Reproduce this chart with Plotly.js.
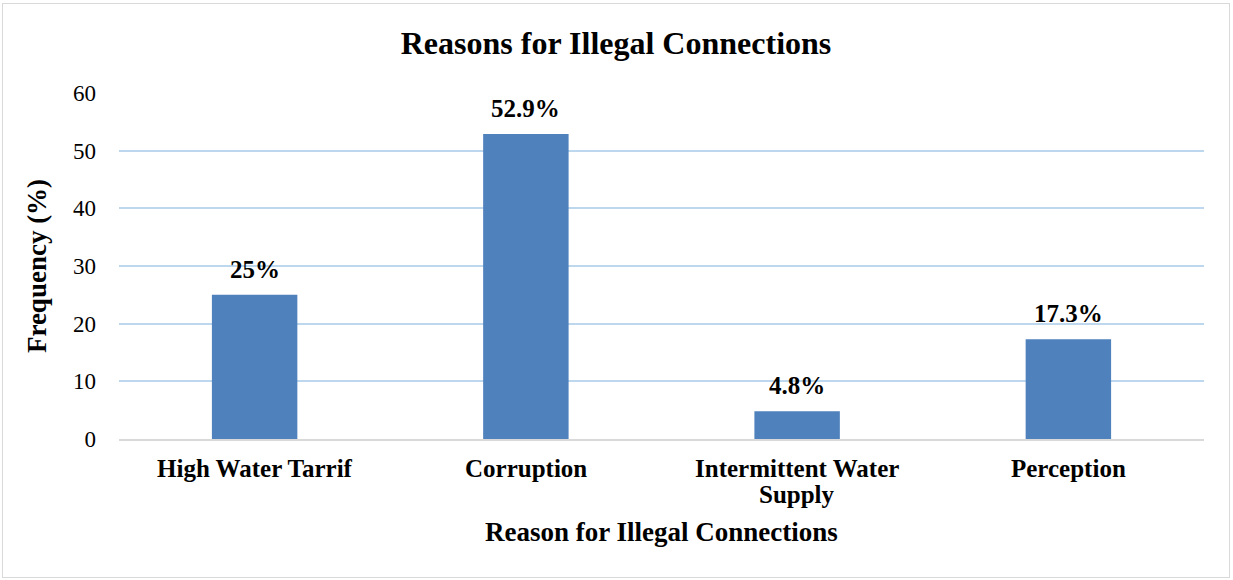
<!DOCTYPE html>
<html>
<head>
<meta charset="utf-8">
<script src="https://cdn.plot.ly/plotly-3.0.1.min.js"></script>
<style>
  html, body { margin: 0; padding: 0; background: #ffffff; }
  #chart { position: absolute; left: 2px; top: 3px; width: 1226px; height: 573px; border: 1px solid #d9d9d9; }
</style>
</head>
<body>
<div id="chart"></div>
<script>
const categories = ["High Water Tarrif", "Corruption", "Intermittent Water Supply", "Perception"];
const tickLabels = [["High Water Tarrif"], ["Corruption"], ["Intermittent Water", "Supply"], ["Perception"]];
const values = [25, 52.9, 4.8, 17.3];
const valueLabels = ["25%", "52.9%", "4.8%", "17.3%"];

const FONT = "Liberation Serif, Times New Roman, serif";

const trace = {
  type: "bar",
  x: categories,
  y: values,
  marker: { color: "#4f81bd" },
  width: 0.315,
  hoverinfo: "x+y"
};

const annotations = [];
categories.forEach((c, i) => {
  annotations.push({
    x: c, y: values[i], xref: "x", yref: "y",
    text: "<b>" + valueLabels[i] + "</b>",
    showarrow: false, yanchor: "bottom", yshift: 10,
    font: { family: FONT, size: 25, color: "#000000" }
  });
  tickLabels[i].forEach((line, j) => {
    annotations.push({
      x: c, y: 0, xref: "x", yref: "y",
      text: "<b>" + line + "</b>",
      showarrow: false, yanchor: "middle", yshift: -29 - 26 * j,
      font: { family: FONT, size: 25, color: "#000000" }
    });
  });
});
annotations.push({
  x: 0.5, y: 0, xref: "paper", yref: "paper",
  text: "<b>Reason for Illegal Connections</b>",
  showarrow: false, yanchor: "middle", yshift: -93,
  font: { family: FONT, size: 27, color: "#000000" }
});

const layout = {
  width: 1226, height: 573,
  margin: { l: 116, r: 25, t: 89, b: 138 },
  paper_bgcolor: "#ffffff",
  plot_bgcolor: "#ffffff",
  showlegend: false,
  title: {
    text: "<b>Reasons for Illegal Connections</b>",
    font: { family: FONT, size: 32, color: "#000000" },
    x: 0.5, xanchor: "center", xref: "container",
    y: 1 - 39 / 573, yanchor: "middle", yref: "container"
  },
  xaxis: {
    showticklabels: false,
    showgrid: false,
    showline: true, linecolor: "#d9d9d9", linewidth: 2,
    ticks: "",
    automargin: false
  },
  yaxis: {
    range: [0, 60],
    dtick: 10,
    tickfont: { family: FONT, size: 23, color: "#000000" },
    showgrid: true, gridcolor: "#bdd7ee", gridwidth: 2,
    zeroline: false, showline: false,
    ticks: "", ticklabelstandoff: 22,
    title: {
      text: "<b>Frequency (%)</b>",
      font: { family: FONT, size: 27, color: "#000000" },
      standoff: 18
    },
    automargin: false
  },
  annotations: annotations,
  bargap: 0.685
};

Plotly.newPlot("chart", [trace], layout, { displayModeBar: false, staticPlot: true });
</script>
</body>
</html>
